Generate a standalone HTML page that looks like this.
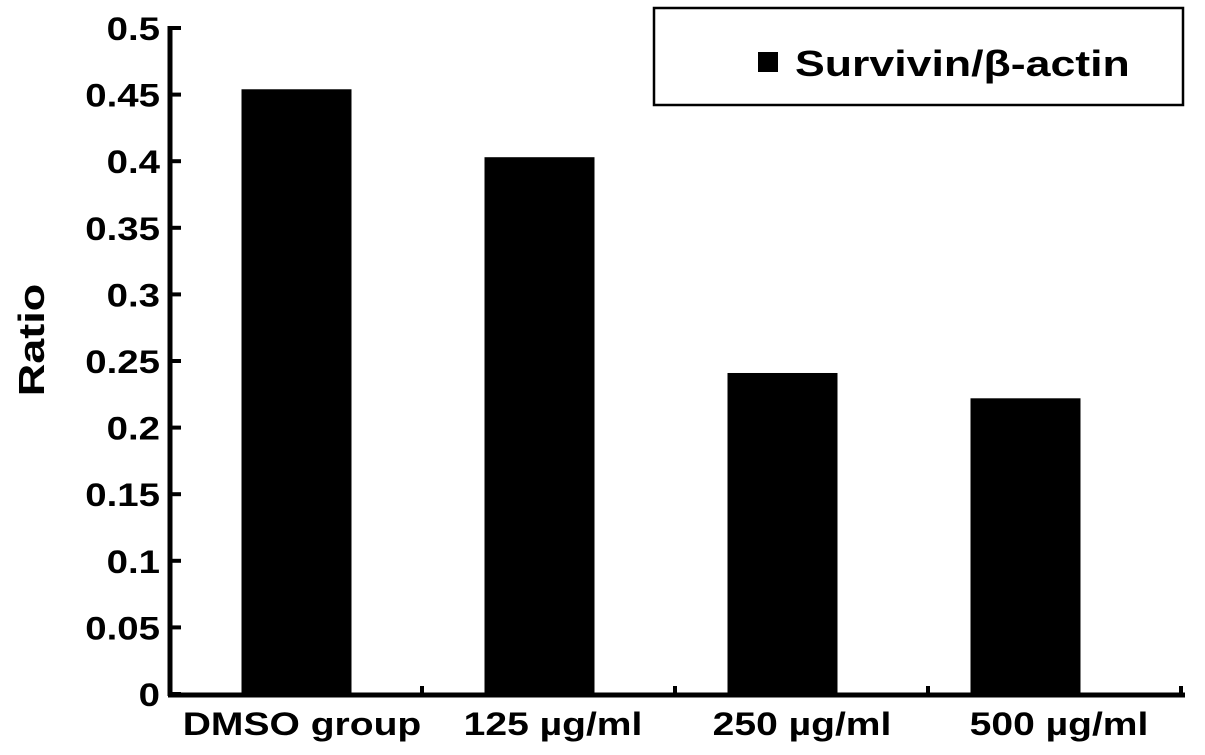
<!DOCTYPE html>
<html><head><meta charset="utf-8"><style>
body{margin:0;background:#fff;}
svg{display:block;font-family:"Liberation Sans",Arial,sans-serif;font-weight:bold;}
</style></head><body>
<svg id="chart" width="1205" height="755" xmlns="http://www.w3.org/2000/svg">
<rect width="1205" height="755" fill="#fff"/>
<g id="marks"></g>
<text transform="translate(44,340) rotate(-90) scale(1.25,1)" text-anchor="middle" font-size="36">Ratio</text>
<g>
<rect x="654" y="8" width="529" height="97" fill="#fff" stroke="#000" stroke-width="2.5"/>
<rect x="758" y="52" width="20" height="20" fill="#000"/>
<text transform="translate(795,76) scale(1.24,1)" font-size="36">Survivin/β-actin</text>
</g>
</svg>
<script>
const categories=["DMSO group","125 µg/ml","250 µg/ml","500 µg/ml"];
const values=[0.454,0.403,0.241,0.222];
const yTicks=[0,0.05,0.1,0.15,0.2,0.25,0.3,0.35,0.4,0.45,0.5];
const yTickLabels=["0","0.05","0.1","0.15","0.2","0.25","0.3","0.35","0.4","0.45","0.5"];
const NS="http://www.w3.org/2000/svg";
const g=document.getElementById('marks');
const x0=170,x1=1185,yBase=694,yTop=28;
function y(v){return yBase-(v/0.5)*(yBase-yTop);}
const catW=243,tickW=253;
function xc(i){return x0+catW*(i+0.5)+5;}
function mk(t,a){const e=document.createElementNS(NS,t);for(const k in a)e.setAttribute(k,a[k]);g.appendChild(e);return e;}
values.forEach((v,i)=>{
  const r=mk('rect',{x:xc(i)-55,y:y(v),width:110,height:yBase-y(v),fill:'#000'});
  
  
  const lx=[302,553,802,1059][i];
  const t=mk('text',{transform:'translate('+lx+',735) scale(1.22,1)','text-anchor':'middle','font-size':32});
  t.textContent=categories[i];
  
  
});
const ya=mk('line',{x1:x0,y1:yTop-2,x2:x0,y2:yBase+2,stroke:'#000','stroke-width':5});


const xa=mk('line',{x1:x0-2,y1:yBase+1,x2:x1,y2:yBase+1,stroke:'#000','stroke-width':5});


yTicks.forEach((v,i)=>{
  const l=mk('line',{x1:x0,y1:y(v),x2:x0+11,y2:y(v),stroke:'#000','stroke-width':4});
  
  
  const t=mk('text',{transform:'translate(160,'+(y(v)+12)+') scale(1.2,1)','text-anchor':'end','font-size':32});
  t.textContent=yTickLabels[i];
  
  
});
for(let i=1;i<=categories.length;i++){
  const xx=x0+tickW*i-1;
  const l=mk('line',{x1:xx,y1:yBase,x2:xx,y2:yBase-8,stroke:'#000','stroke-width':4});
  
  
}
</script>
</body></html>
